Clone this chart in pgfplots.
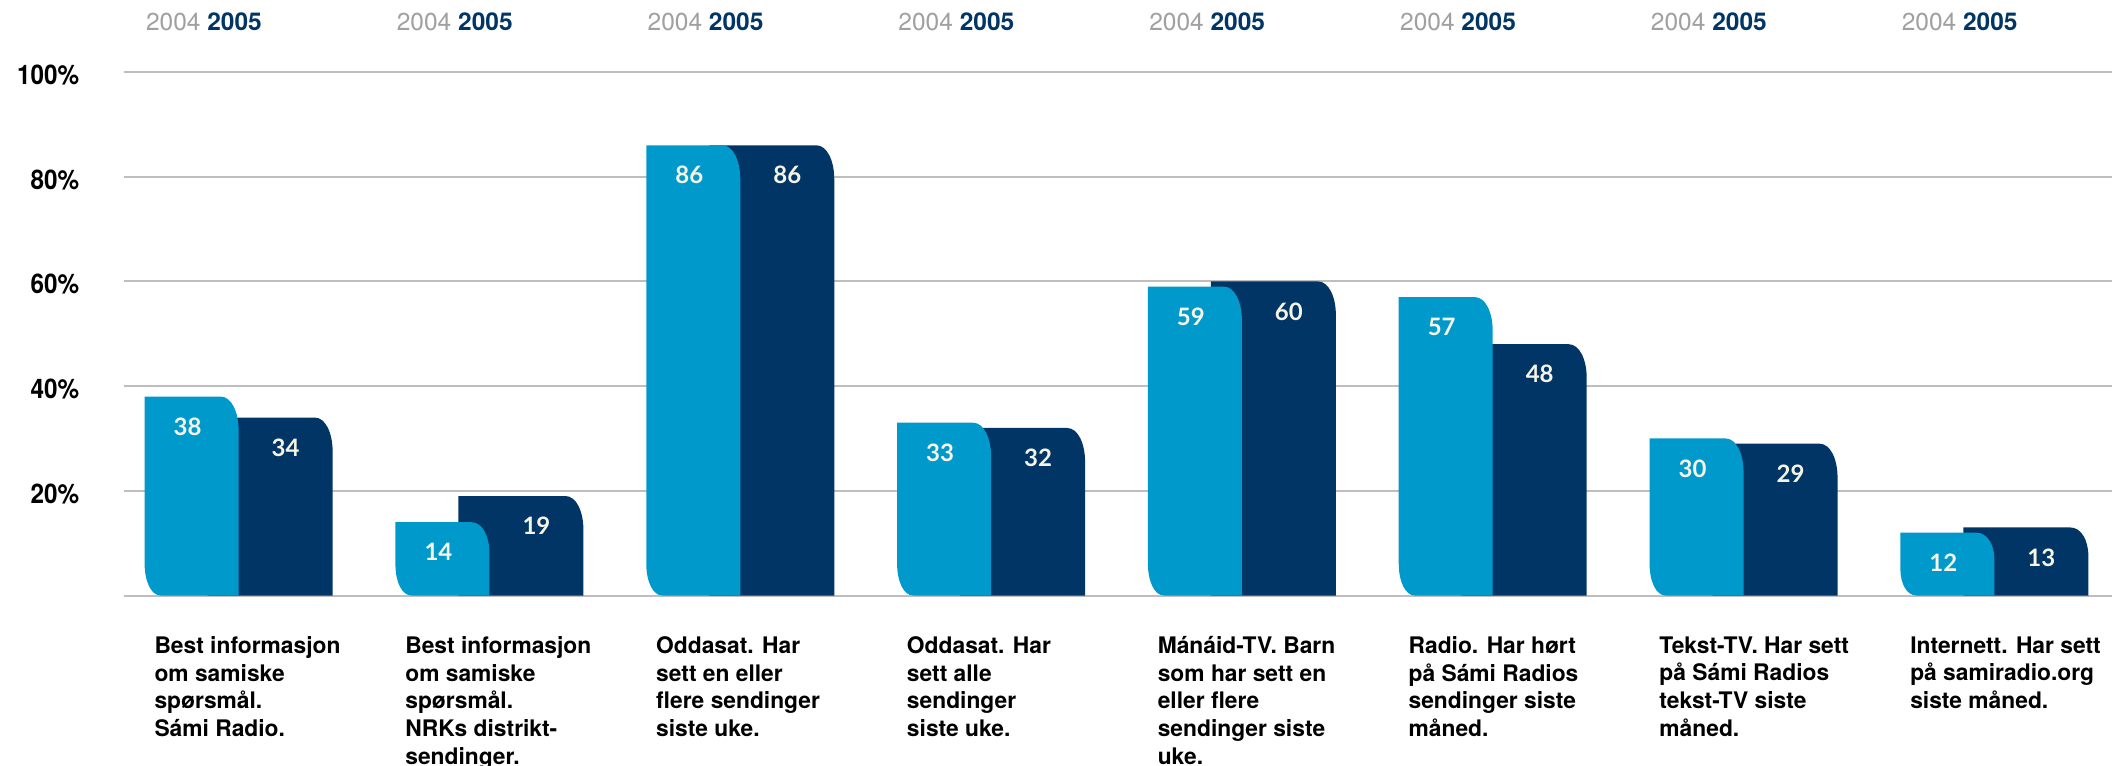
\documentclass[border=0pt]{standalone}
\usepackage{fontspec}
\setmainfont{TeX Gyre Heros}
\newfontfamily\valfont{Lato}
\newfontfamily\tickfont{TeX Gyre Heros}[FakeStretch=0.9]
\usepackage{pgfplots}
\pgfplotsset{compat=1.18}

\definecolor{lightbar}{RGB}{0,153,204}
\definecolor{darkbar}{RGB}{0,53,102}
\definecolor{yeargray}{RGB}{160,160,160}
\definecolor{gridgray}{RGB}{190,190,190}
\definecolor{valtext}{RGB}{246,244,228}

% bar outline: square corners except a soft top-right one (and bottom-left on the 2004 bars)
\makeatletter
\newdimen\bL \newdimen\bR \newdimen\bB \newdimen\bT
\newdimen\cA \newdimen\cB \newdimen\cC \newdimen\cD
\newdimen\bX \newdimen\bY \newdimen\bH \newdimen\bM
\def\bars@box#1#2{%
  \pgf@process{#1}\bL=\pgf@x \bB=\pgf@y
  \pgf@process{#2}\bR=\bL \advance\bR by\pgf@x \bT=\bB \advance\bT by\pgf@y
  \ifdim\bR<\bL \bX=\bR \bR=\bL \bL=\bX \fi
  \ifdim\bT<\bB \bY=\bT \bT=\bB \bB=\bY \fi
  \cA=9pt \cB=17pt \cC=8pt \cD=16pt
  \bH=\bT \advance\bH by-\bB \bM=0.42\bH
  \ifdim\cB>\bM \cB=\bM \fi
  \ifdim\cD>\bM \cD=\bM \fi
}
\def\bars@top{%
  \pgfpathmoveto{\pgfqpoint{\bL}{\bT}}%
  \bX=\bR \advance\bX by-\cA
  \pgfpathlineto{\pgfqpoint{\bX}{\bT}}%
  \advance\bX by0.6\cA
  \bY=\bT \advance\bY by-\cB \advance\bY by0.55\cB
  \bM=\bT \advance\bM by-\cB
  \pgfpathcurveto{\pgfqpoint{\bX}{\bT}}{\pgfqpoint{\bR}{\bY}}{\pgfqpoint{\bR}{\bM}}%
  \pgfpathlineto{\pgfqpoint{\bR}{\bB}}%
}
\def\lightbarpath#1#2{%
  \bars@box{#1}{#2}\bars@top
  \bX=\bL \advance\bX by\cC
  \pgfpathlineto{\pgfqpoint{\bX}{\bB}}%
  \advance\bX by-0.6\cC
  \bY=\bB \advance\bY by\cD \advance\bY by-0.55\cD
  \bM=\bB \advance\bM by\cD
  \pgfpathcurveto{\pgfqpoint{\bX}{\bB}}{\pgfqpoint{\bL}{\bY}}{\pgfqpoint{\bL}{\bM}}%
  \pgfpathclose
}
\def\darkbarpath#1#2{%
  \bars@box{#1}{#2}\bars@top
  \pgfpathlineto{\pgfqpoint{\bL}{\bB}}%
  \pgfpathclose
}
\makeatother

\tikzset{
  lightshape/.code={\let\pgfpathrectangle\lightbarpath},
  darkshape/.code={\let\pgfpathrectangle\darkbarpath},
  vallabel/.style={font=\valfont\bfseries\fontsize{12}{12}\selectfont, text=valtext,
    anchor=center, yshift=-15pt},
}

\begin{document}
\begin{tikzpicture}
\begin{axis}[
  width=994pt, height=261.75pt,
  scale only axis,
  xmin=-0.457, xmax=7.469,
  ymin=0, ymax=100,
  clip=false,
  axis lines=left,
  axis line style={draw=none},
  major tick style={draw=none},
  /pgf/number format/assume math mode=true,
  ytick={0,20,40,60,80,100},
  yticklabels={,20\%,40\%,60\%,80\%,100\%},
  yticklabel style={font=\tickfont\bfseries\fontsize{13.5}{14}\selectfont, anchor=east,
    inner sep=0pt, xshift=-20pt, yshift=-1.5pt},
  ymajorgrids,
  major grid style={gridgray, line width=1pt},
  xtick={0,...,7},
  xticklabels={
    {Best informasjon\\om samiske\\spørsmål.\\Sámi Radio.},
    {Best informasjon\\om samiske\\spørsmål.\\NRKs distrikt-\\sendinger.},
    {Oddasat. Har\\sett en eller\\flere sendinger\\siste uke.},
    {Oddasat. Har\\sett alle\\sendinger\\siste uke.},
    {Mánáid-TV. Barn\\som har sett en\\eller flere\\sendinger siste\\uke.},
    {Radio. Har hørt\\på Sámi Radios\\sendinger siste\\måned.},
    {Tekst-TV. Har sett\\på Sámi Radios\\tekst-TV siste\\måned.},
    {Internett. Har sett\\på samiradio.org\\siste måned.}
  },
  xticklabel style={font=\fontsize{11.4}{13.85}\selectfont\bfseries, anchor=north west,
    align=left, inner sep=0pt, xshift=-42.25pt, yshift=-16pt},
  ybar,
]
% 2005 drawn first, it reaches behind the 2004 bar
\addplot[fill=darkbar, draw=none, bar width=62.5pt, bar shift=15.75pt, darkshape,
  nodes near coords, every node near coord/.append style={vallabel, xshift=7.75pt}]
  coordinates {(0,34) (1,19) (2,86) (3,32) (4,60) (5,48) (6,29) (7,13)};
% 2004
\addplot[fill=lightbar, draw=none, bar width=47pt, bar shift=-23.5pt, lightshape,
  nodes near coords, every node near coord/.append style={vallabel, xshift=-2pt}]
  coordinates {(0,38) (1,14) (2,86) (3,33) (4,59) (5,57) (6,30) (7,12)};

\pgfplotsinvokeforeach{0,...,7}{
  \node[anchor=base west, inner sep=0pt, font=\fontsize{12.25}{13}\selectfont]
    at ([shift={(-46.5pt,20.75pt)}]axis cs:#1,100)
    {\textcolor{yeargray}{2004} \textcolor{darkbar}{\bfseries 2005}};
}
\coordinate (bbsw) at (rel axis cs:0,0);
\coordinate (bbne) at (rel axis cs:1,1);
\end{axis}
\pgfresetboundingbox
\path[use as bounding box] ([shift={(-62pt,-85.25pt)}]bbsw) rectangle ([yshift=36pt]bbne);
\end{tikzpicture}
\end{document}
